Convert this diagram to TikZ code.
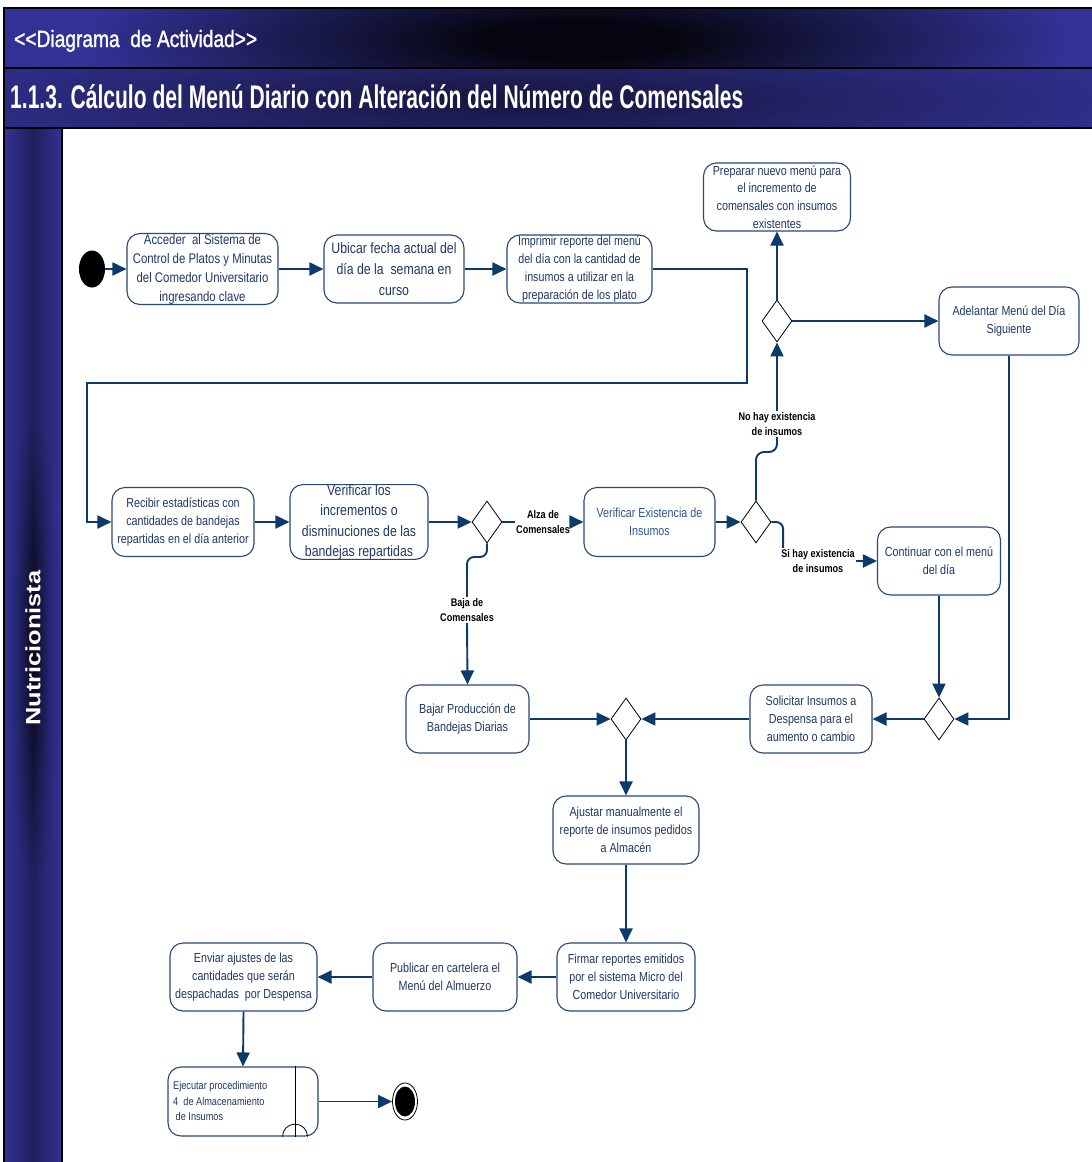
\documentclass[tikz,border=0pt]{standalone}
\usepackage{fontspec}
\setmainfont{Liberation Sans}
\newfontfamily\nf[FakeStretch=0.82]{Liberation Sans}
\newfontfamily\hf[FakeBold=1.6]{Liberation Sans}
\usetikzlibrary{arrows.meta,shapes.geometric,fadings}

\definecolor{hblue}{RGB}{50,50,150}
\definecolor{hdark}{RGB}{6,6,18}
\definecolor{hmid}{RGB}{22,22,62}
\definecolor{lanemid}{RGB}{32,32,92}
\definecolor{nodeline}{RGB}{40,72,120}
\definecolor{ntext}{RGB}{31,56,100}
\definecolor{ntextb}{RGB}{46,84,150}
\definecolor{arrowc}{RGB}{12,58,107}

\pgfdeclareradialshading{hdrglow}{\pgfpoint{0bp}{0bp}}{%
  color(0bp)=(hdark); color(4bp)=(hdark); color(20bp)=(hblue); color(50bp)=(hblue)}
\tikzfading[name=lanefade, inner color=transparent!0, outer color=transparent!100]

\begin{document}
\begin{tikzpicture}[x=1pt,y=-1pt,
  act/.style={draw=nodeline, line width=1.1pt, rounded corners=13pt, fill=white,
    align=center, inner sep=0pt, text=ntext, font=\nf\fontsize{13.1}{18}\selectfont},
  sz/.style 2 args={minimum width=#1pt, minimum height=#2pt},
  dia/.style={diamond, draw=black, line width=0.8pt, fill=white,
    minimum width=30pt, minimum height=42pt, inner sep=0pt},
  flow/.style={draw=arrowc, line width=1.9pt, -{Triangle[length=14pt,width=13pt]}},
  wire/.style={draw=arrowc, line width=1.9pt},
  lbl/.style={inner sep=1pt, align=center, text=black,
    font=\nf\bfseries\fontsize{11.1}{15.5}\selectfont},
  border/.style={draw=black, line width=2.6pt}
]
\useasboundingbox (0,0) rectangle (1092,1162);
\fill[white] (0,0) rectangle (1092,1162);

% --- header bands ---
\fill[hblue] (4,8) rectangle (1092,128);
\begin{scope}
  \clip (4,8) rectangle (1092,68);
  \shade[shading=hdrglow] (578,40) ellipse [x radius=620pt, y radius=130pt];
\end{scope}
\begin{scope}
  \clip (4,68) rectangle (1092,128);
  \shade[inner color=hmid, outer color=hblue] (520,100) ellipse [x radius=680pt, y radius=80pt];
\end{scope}

% --- swimlane column ---
\begin{scope}
  \clip (4,128) rectangle (62,1162);
  \shade[left color=hblue, right color=hblue, middle color=lanemid] (4,128) rectangle (62,1162);
  \shade[left color=hblue, right color=hblue, middle color=hdark, path fading=lanefade]
    (4,420) rectangle (62,880);
\end{scope}

% --- frame lines ---
\draw[border] (4,1162) -- (4,8) -- (1092,8);
\draw[border] (4,68) -- (1092,68);
\draw[border] (4,128) -- (1092,128);
\draw[border] (62,128) -- (62,1162);

% --- titles ---
\node[anchor=base west, inner sep=0pt, text=white] (t1) at (14,47)
  {\resizebox{243pt}{17pt}{\hf <{}<Diagrama\ \ de Actividad>{}>}};
\node[anchor=base west, inner sep=0pt, text=white] (t2) at (10,108)
  {\resizebox{733pt}{24pt}{\nf\bfseries 1.1.3. Cálculo del Menú Diario con Alteración del Número de Comensales}};
\node[rotate=90, inner sep=0pt, text=white] (lane) at (33,648)
  {\resizebox{155pt}{15pt}{\bfseries Nutricionista}};

% --- start and end ---
\node[ellipse, fill=black, minimum width=26pt, minimum height=37pt, inner sep=0pt] (start) at (92,269) {};
\node[ellipse, draw=black, line width=0.8pt, fill=white, minimum width=25pt, minimum height=37pt, inner sep=0pt] (end) at (405,1101.5) {};
\fill[black] (end.center) ellipse [x radius=10pt, y radius=15pt];

% --- actions ---
\node[act, sz={151}{71}, font=\nf\fontsize{13.9}{19}\selectfont] (A1) at (202.5,269)
  {Acceder\ \ al Sistema de\\Control de Platos y Minutas\\del Comedor Universitario\\ingresando clave};
\node[act, sz={140}{68}, font=\nf\fontsize{15}{21}\selectfont] (A2) at (394,269)
  {Ubicar fecha actual del\\día de la\ \ semana en\\curso};
\node[act, sz={145}{68}] (A3) at (579.5,269)
  {Imprimir reporte del menú\\del día con la cantidad de\\insumos a utilizar en la\\preparación de los plato};
\node[act, sz={147}{68}, font=\nf\fontsize{13.1}{17.7}\selectfont] (A7) at (777,197)
  {Preparar nuevo menú para\\el incremento de\\comensales con insumos\\existentes};
\node[act, sz={140}{68}] (A9) at (1009,321) {Adelantar Menú del Día\\Siguiente};
\node[act, sz={142}{69}] (A4) at (183,522)
  {Recibir estadísticas con\\cantidades de bandejas\\repartidas en el día anterior};
\node[act, sz={138}{69}, font=\nf\fontsize{15}{20.3}\selectfont] (A5) at (359,522)
  {Verificar los\\incrementos o\\disminuciones de las\\bandejas repartidas};
\node[act, sz={131}{69}, text=ntextb] (A6) at (649.5,522) {Verificar Existencia de\\Insumos};
\node[act, sz={123}{68}] (A8) at (939,561) {Continuar con el menú\\del día};
\node[act, sz={123}{68}] (A11) at (467.5,719) {Bajar Producción de\\Bandejas Diarias};
\node[act, sz={122}{68}] (A10) at (811,719) {Solicitar Insumos a\\Despensa para el\\aumento o cambio};
\node[act, sz={146}{68}] (A12) at (626,830)
  {Ajustar manualmente el\\reporte de insumos pedidos\\a Almacén};
\node[act, sz={138}{68}] (A13) at (626,977)
  {Firmar reportes emitidos\\por el sistema Micro del\\Comedor Universitario};
\node[act, sz={144}{68}] (A14) at (445,977) {Publicar en cartelera el\\Menú del Almuerzo};
\node[act, sz={147}{68}] (A15) at (243.5,977)
  {Enviar ajustes de las\\cantidades que serán\\despachadas\ \ por Despensa};
\node[act, sz={150}{69}] (A16) at (243,1101.5) {};
\node[anchor=west, align=left, inner sep=0pt, text=ntext, font=\nf\fontsize{11.2}{15.5}\selectfont]
  (A16t) at (173,1101) {Ejecutar procedimiento\\4\ \ de Almacenamiento\\\hspace{2.5pt}de Insumos};
% sub-activity mark
\draw[black, line width=0.8pt] ([xshift=52pt]A16.north) -- ([xshift=52pt]A16.south);
\draw[black, line width=0.8pt] ([xshift=39.5pt]A16.south) arc[start angle=180, end angle=0, radius=12.5pt];

% --- decisions ---
\node[dia] (D1) at (487,522) {};
\node[dia] (D2) at (756,522) {};
\node[dia] (D3) at (777,321) {};
\node[dia] (D4) at (939,719) {};
\node[dia] (D5) at (626,719) {};

% --- guard labels ---
\node[lbl] (lalza) at (543,522) {Alza de\\Comensales};
\node[lbl] (lbaja) at (467,610) {Baja de\\Comensales};
\node[lbl] (lno) at (777,424) {No hay existencia\\de insumos};
\node[lbl] (lsi) at (818,561) {Si hay existencia\\de insumos};

% --- flows ---
\draw[flow] (start.east) -- (A1.west);
\draw[flow] (A1) -- (A2);
\draw[flow] (A2) -- (A3);
\coordinate (k1) at (747,383);
\coordinate (k2) at (87,383);
\draw[flow] (A3.east) -| (k1) -- (k2) |- (A4.west);
\draw[flow] (A4) -- (A5);
\draw[flow] (A5) -- (D1);
\draw[wire] (D1.east) -- (lalza.west);
\draw[flow] (lalza.east) -- (A6.west);
\coordinate (j1) at (487,557);
\coordinate (j2) at (467,557);
\draw[wire, rounded corners=7pt] (D1.south) -- (j1) -- (j2) -- (lbaja.north);
\draw[flow] (lbaja.south) -- (A11.north);
\draw[flow] (A6) -- (D2);
\coordinate (j3) at (756,452);
\coordinate (j4) at (777,452);
\draw[wire, rounded corners=8pt] (D2.north) -- (j3) -- (j4) -- (lno.south);
\draw[flow] (lno.north) -- (D3.south);
\draw[wire, rounded corners=7pt] (D2.east) -| ([xshift=3pt]lsi.north west);
\draw[flow] (lsi.east) -- (A8.west);
\draw[flow] (D3.north) -- (A7.south);
\draw[flow] (D3.east) -- (A9.west);
\draw[flow] (A8.south) -- (D4.north);
\draw[flow] (A9.south) |- (D4.east);
\draw[flow] (D4.west) -- (A10.east);
\draw[flow] (A10.west) -- (D5.east);
\draw[flow] (A11.east) -- (D5.west);
\draw[flow] (D5.south) -- (A12.north);
\draw[flow] (A12.south) -- (A13.north);
\draw[flow] (A13.west) -- (A14.east);
\draw[flow] (A14.west) -- (A15.east);
\draw[flow] (A15.south) -- (A16.north);
\draw[flow] (A16.east) -- (end.west);
\end{tikzpicture}
\end{document}
